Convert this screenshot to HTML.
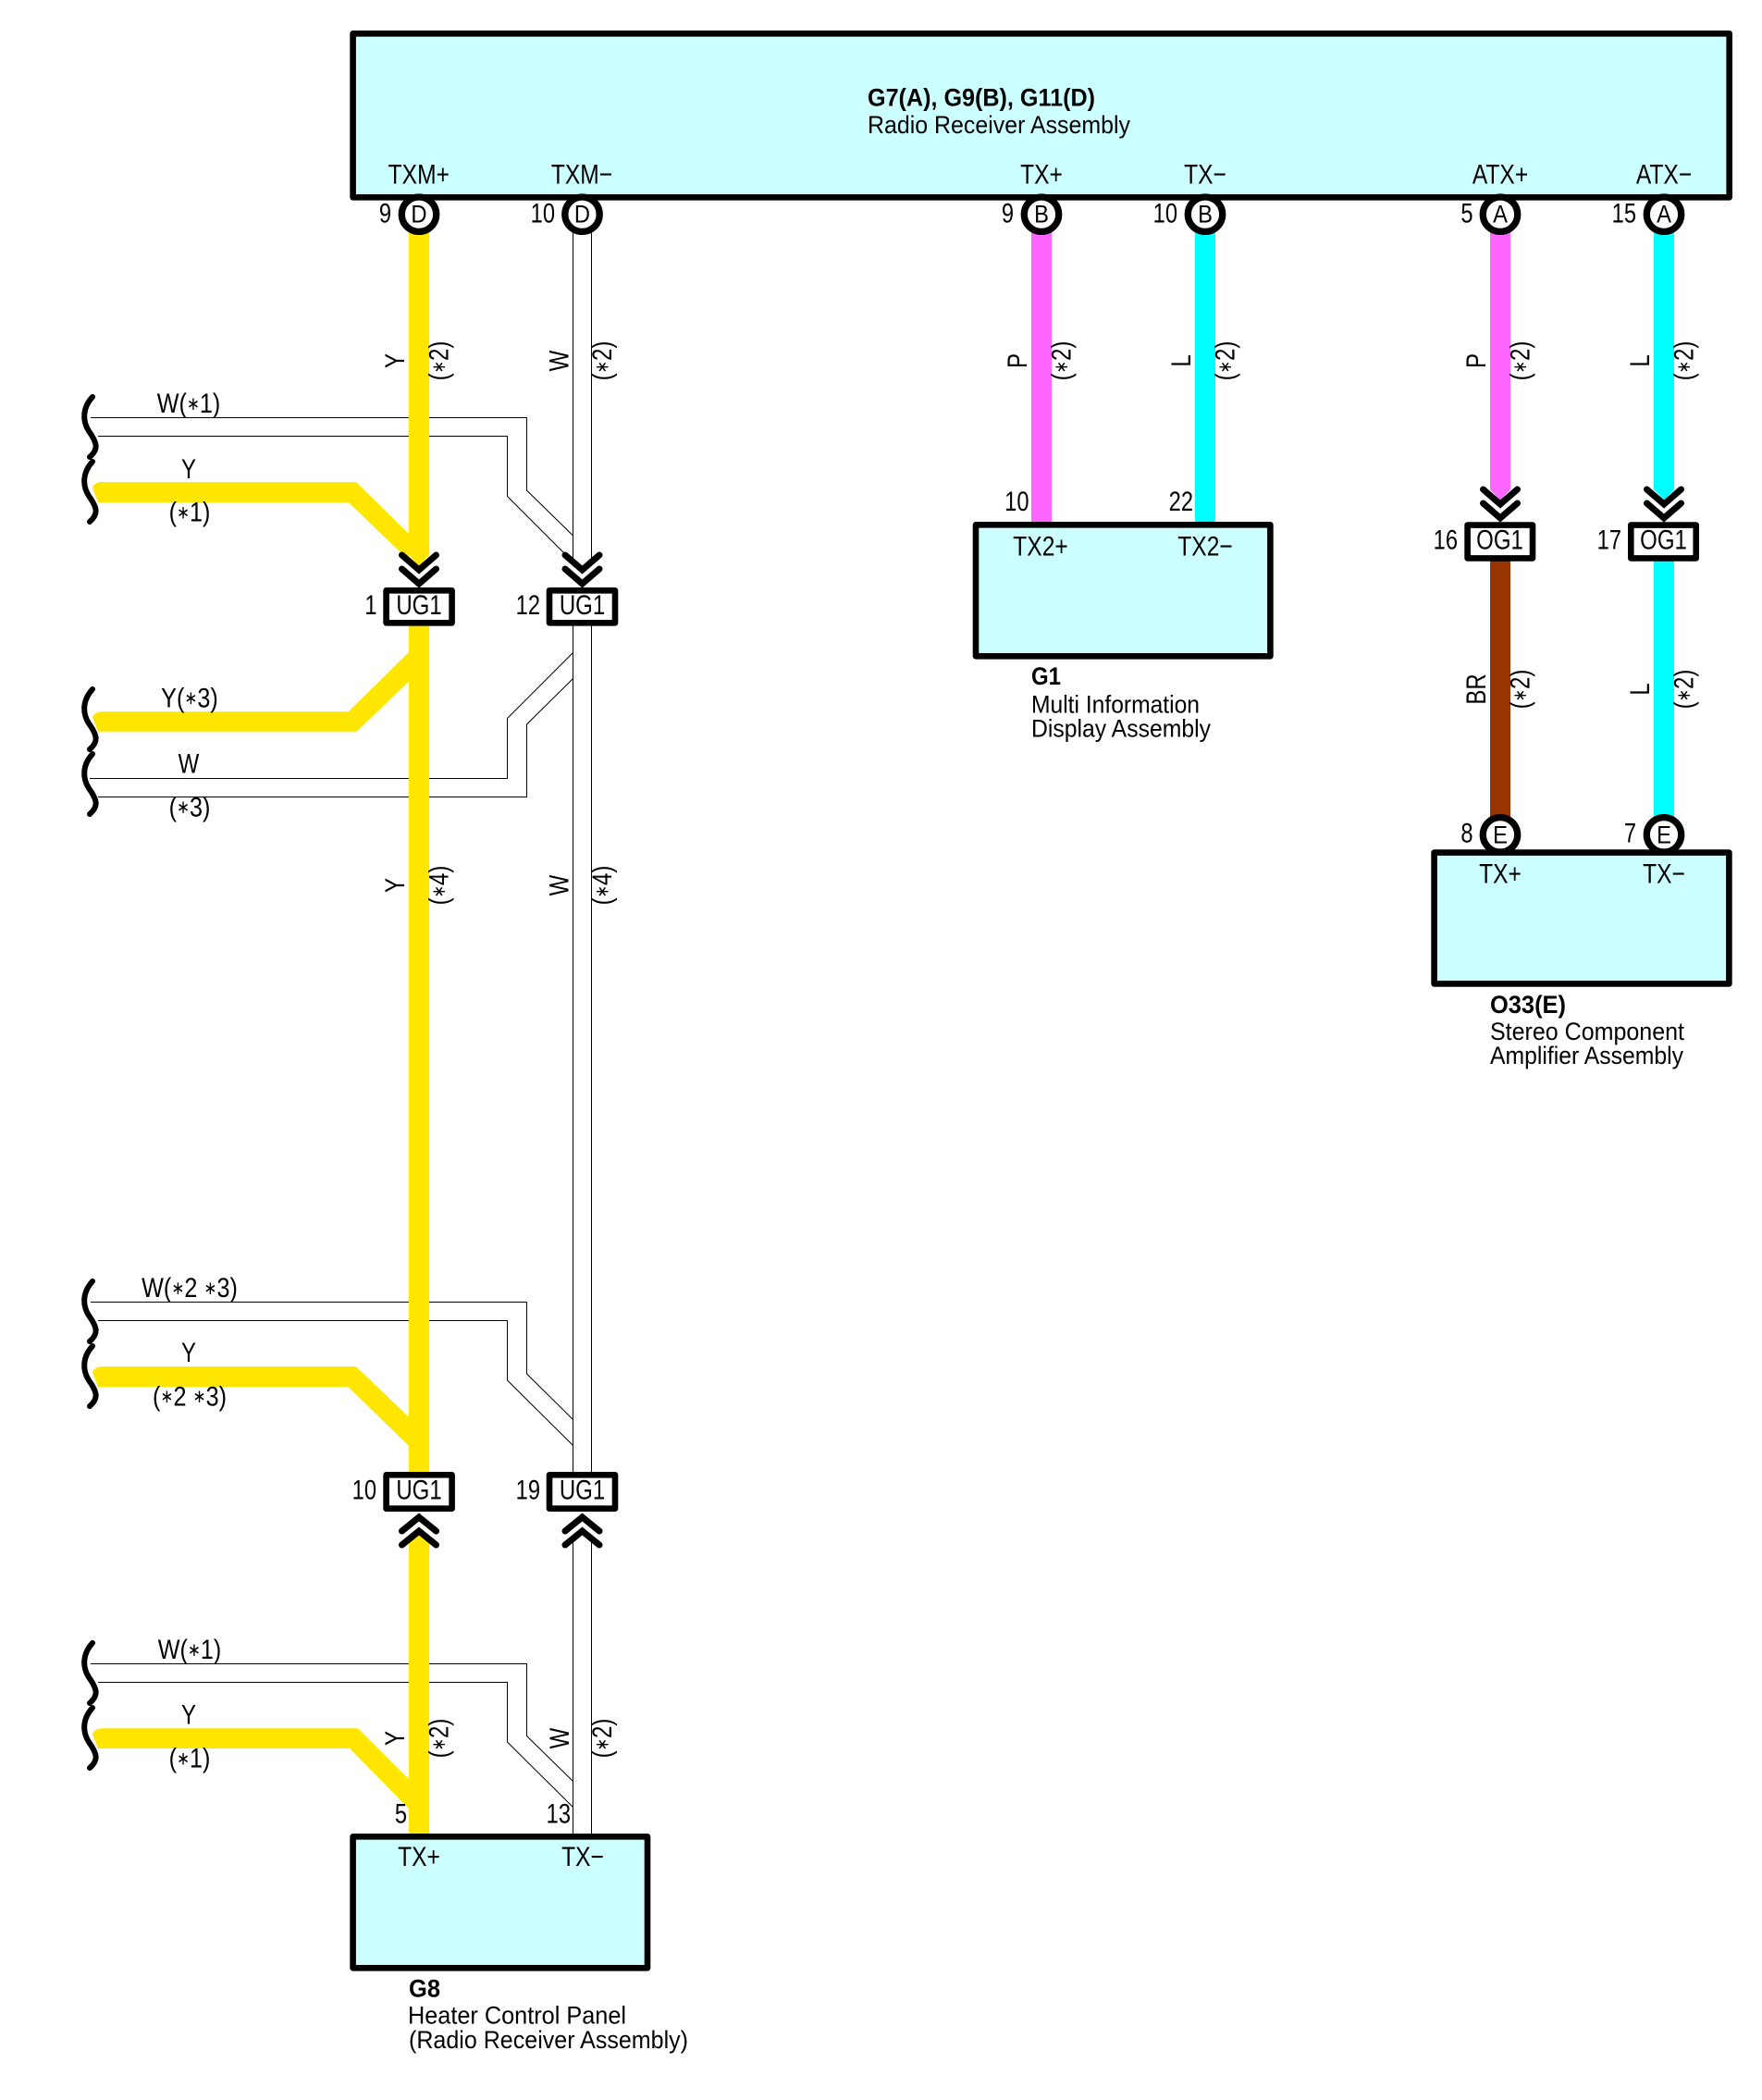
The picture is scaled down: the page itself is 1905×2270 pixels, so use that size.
<!DOCTYPE html>
<html lang="en"><head><meta charset="utf-8"><title>Radio Receiver Assembly wiring diagram</title>
<style>
html,body{margin:0;padding:0;background:#fff}
svg{display:block}
text{font-family:"Liberation Sans",sans-serif;font-size:30px;fill:#000}
.m{text-anchor:middle}.e{text-anchor:end}
.d{font-size:27px}.b{font-size:27px;font-weight:bold}
.c text{font-size:27px}
.a{font-size:20px;baseline-shift:3px}
</style></head><body>
<svg xmlns="http://www.w3.org/2000/svg" width="1905" height="2270" viewBox="0 0 1905 2270">
<defs>
<path id="br" d="M100 429C89 441 89 455 96 466C106 480 106 486 97 494" fill="none" stroke="#000" stroke-width="6" stroke-linecap="round"/>
<path id="cd" d="M-18.5 0L0 16L18.5 0M-18.5 15L0 31L18.5 15" fill="none" stroke="#000" stroke-width="7" stroke-linecap="round" stroke-linejoin="miter"/>
<path id="cu" d="M-18.5 15L0 0L18.5 15M-18.5 30L0 15L18.5 30" fill="none" stroke="#000" stroke-width="7" stroke-linecap="round" stroke-linejoin="miter"/>
</defs>

<!-- thin white wires -->
<g fill="none" stroke="#000" stroke-width="1">
<path d="M98 451.5H569.5V530L619 578.5"/>
<path d="M106 471.5H548.5V536.5L612 600"/>
<path d="M97 841.5H548.5V776.5L619 706"/>
<path d="M106 861.5H569.5V783L619 734"/>
<path d="M98 1407.5H569.5V1485L619 1534"/>
<path d="M106 1427.5H548.5V1492L619 1562"/>
<path d="M98 1798.5H569.5V1876.5L619 1925"/>
<path d="M106 1818.5H548.5V1883L619 1953"/>
<path d="M619.5 250V605M639.5 250V605M619.5 676V1591M639.5 676V1591M619.5 1663V1985M639.5 1663V1985"/>
</g>

<!-- yellow wires -->
<g fill="#ffe600">
<path d="M110 521Q103 521 100 527L106 543H376.7L433 597L442 606V577L385 521Z"/>
<path d="M110 769.3Q103 769.3 100 775L106 790.7H385.7L442 736.7V705L376.7 769.3Z"/>
<path d="M110 1477.3Q103 1477.3 100 1483L106 1499.3H376.7L442 1563V1531.7L385 1477.3Z"/>
<path d="M110 1868.3Q103 1868.3 100 1874L106 1890H378L442 1955V1923.3L387 1868.3Z"/>
<path d="M442 245H464V600L453 612L442 600Z"/>
<rect x="442" y="676" width="22" height="915"/>
<path d="M442 1665L453 1652L464 1665V1985H442Z"/>
</g>
<!-- coloured wires -->
<rect x="1115" y="245" width="22" height="320" fill="#ff66ff"/>
<rect x="1292" y="245" width="22" height="320" fill="#00ffff"/>
<path d="M1611 245H1633V529L1622 541L1611 529Z" fill="#ff66ff"/>
<path d="M1788 245H1810V529L1799 541L1788 529Z" fill="#00ffff"/>
<rect x="1611" y="606" width="22" height="280" fill="#993300"/>
<rect x="1788" y="606" width="22" height="280" fill="#00ffff"/>

<!-- braces -->
<use href="#br"/>
<use href="#br" y="70"/>
<use href="#br" y="316"/>
<use href="#br" y="386"/>
<use href="#br" y="956"/>
<use href="#br" y="1026"/>
<use href="#br" y="1347"/>
<use href="#br" y="1417"/>

<!-- boxes -->
<g fill="#ccffff" stroke="#000" stroke-width="6.6" stroke-linejoin="round">
<rect x="381.6" y="36.3" width="1488.1" height="177"/>
<rect x="1055" y="567.3" width="318.4" height="142"/>
<rect x="1550.6" y="921.6" width="318.8" height="141.8"/>
<rect x="381.6" y="1985.3" width="318.4" height="142"/>
</g>

<!-- circles -->
<g fill="#fff" stroke="#000" stroke-width="7.3">
<circle cx="453" cy="231.7" r="18.7"/>
<circle cx="629.5" cy="231.7" r="18.7"/>
<circle cx="1126" cy="231.7" r="18.7"/>
<circle cx="1303" cy="231.7" r="18.7"/>
<circle cx="1622" cy="231.7" r="18.7"/>
<circle cx="1799" cy="231.7" r="18.7"/>
<circle cx="1622" cy="902.3" r="18.7"/>
<circle cx="1799" cy="902.3" r="18.7"/>
</g>

<!-- chevrons -->
<use href="#cd" x="453" y="600"/>
<use href="#cd" x="629.5" y="600"/>
<use href="#cd" x="1622" y="529"/>
<use href="#cd" x="1799" y="529"/>
<use href="#cu" x="453" y="1640"/>
<use href="#cu" x="629.5" y="1640"/>

<!-- connector boxes -->
<g fill="#fff" stroke="#000" stroke-width="6.6" stroke-linejoin="round">
<rect x="417.6" y="638.3" width="71" height="35"/>
<rect x="594" y="638.3" width="71" height="35"/>
<rect x="417.6" y="1594.3" width="71" height="36.4"/>
<rect x="594" y="1594.3" width="71" height="36.4"/>
<rect x="1586.6" y="567.6" width="70.4" height="35.8"/>
<rect x="1763.3" y="567.6" width="70.4" height="35.8"/>
</g>

<!-- pin names -->
<text class="m" transform="translate(452.8 198.5) scale(.82 1)">TXM+</text>
<text class="m" transform="translate(629 198.5) scale(.82 1)">TXM−</text>
<text class="m" transform="translate(1126 198.5) scale(.82 1)">TX+</text>
<text class="m" transform="translate(1303 198.5) scale(.82 1)">TX−</text>
<text class="m" transform="translate(1622 198.5) scale(.82 1)">ATX+</text>
<text class="m" transform="translate(1799 198.5) scale(.82 1)">ATX−</text>
<text class="m" transform="translate(1125 600.5) scale(.82 1)">TX2+</text>
<text class="m" transform="translate(1303 600.5) scale(.82 1)">TX2−</text>
<text class="m" transform="translate(1622 954.7) scale(.82 1)">TX+</text>
<text class="m" transform="translate(1799 954.7) scale(.82 1)">TX−</text>
<text class="m" transform="translate(453 2017.2) scale(.82 1)">TX+</text>
<text class="m" transform="translate(630 2017.2) scale(.82 1)">TX−</text>

<!-- circle letters -->
<g class="c">
<text class="m" transform="translate(453 240.5) scale(.88 1)">D</text>
<text class="m" transform="translate(629.5 240.5) scale(.88 1)">D</text>
<text class="m" transform="translate(1126 240.5) scale(.88 1)">B</text>
<text class="m" transform="translate(1303 240.5) scale(.88 1)">B</text>
<text class="m" transform="translate(1622 240.5) scale(.88 1)">A</text>
<text class="m" transform="translate(1799 240.5) scale(.88 1)">A</text>
<text class="m" transform="translate(1622 911.5) scale(.88 1)">E</text>
<text class="m" transform="translate(1799 911.5) scale(.88 1)">E</text>
</g>

<!-- connector labels -->
<text class="m" transform="translate(453 663.8) scale(.8 1)">UG1</text>
<text class="m" transform="translate(629.5 663.8) scale(.8 1)">UG1</text>
<text class="m" transform="translate(453 1620.5) scale(.8 1)">UG1</text>
<text class="m" transform="translate(629.5 1620.5) scale(.8 1)">UG1</text>
<text class="m" transform="translate(1621.5 593.5) scale(.8 1)">OG1</text>
<text class="m" transform="translate(1798.5 593.5) scale(.8 1)">OG1</text>

<!-- pin numbers -->
<g>
<text class="e" transform="translate(423 240.5) scale(.79 1)">9</text>
<text class="e" transform="translate(600 240.5) scale(.79 1)">10</text>
<text class="e" transform="translate(1096 240.5) scale(.79 1)">9</text>
<text class="e" transform="translate(1273 240.5) scale(.79 1)">10</text>
<text class="e" transform="translate(1592.5 240.5) scale(.79 1)">5</text>
<text class="e" transform="translate(1769 240.5) scale(.79 1)">15</text>
<text class="e" transform="translate(1112.5 552.2) scale(.79 1)">10</text>
<text class="e" transform="translate(1290 552.2) scale(.79 1)">22</text>
<text class="e" transform="translate(1576 593.5) scale(.79 1)">16</text>
<text class="e" transform="translate(1753 593.5) scale(.79 1)">17</text>
<text class="e" transform="translate(1592.5 910.5) scale(.79 1)">8</text>
<text class="e" transform="translate(1769 910.5) scale(.79 1)">7</text>
<text class="e" transform="translate(407.5 663.8) scale(.79 1)">1</text>
<text class="e" transform="translate(584 663.8) scale(.79 1)">12</text>
<text class="e" transform="translate(407 1620.5) scale(.79 1)">10</text>
<text class="e" transform="translate(584 1620.5) scale(.79 1)">19</text>
<text class="e" transform="translate(440 1970.5) scale(.79 1)">5</text>
<text class="e" transform="translate(617 1970.5) scale(.79 1)">13</text>
</g>

<!-- left wire labels -->
<text class="m" transform="translate(204 446) scale(.84 1)">W(<tspan class="a">∗</tspan>1)</text>
<text class="m" transform="translate(204 517.2) scale(.8 1)">Y</text>
<text class="m" transform="translate(205 563.5) scale(.84 1)">(<tspan class="a">∗</tspan>1)</text>
<text class="m" transform="translate(205 764.3) scale(.84 1)">Y(<tspan class="a">∗</tspan>3)</text>
<text class="m" transform="translate(204 835.5) scale(.8 1)">W</text>
<text class="m" transform="translate(205 882.3) scale(.84 1)">(<tspan class="a">∗</tspan>3)</text>
<text class="m" transform="translate(205 1402.2) scale(.84 1)">W(<tspan class="a">∗</tspan>2 <tspan class="a">∗</tspan>3)</text>
<text class="m" transform="translate(204 1472.2) scale(.8 1)">Y</text>
<text class="m" transform="translate(205 1519.3) scale(.84 1)">(<tspan class="a">∗</tspan>2 <tspan class="a">∗</tspan>3)</text>
<text class="m" transform="translate(205 1793) scale(.84 1)">W(<tspan class="a">∗</tspan>1)</text>
<text class="m" transform="translate(204 1863.3) scale(.8 1)">Y</text>
<text class="m" transform="translate(205 1910.7) scale(.84 1)">(<tspan class="a">∗</tspan>1)</text>

<!-- rotated wire labels -->
<g>
<text class="m" transform="translate(437 390) rotate(-90) scale(.8 1)">Y</text>
<text class="m" transform="translate(484.5 390) rotate(-90) scale(.8 1)">(<tspan class="a">∗</tspan>2)</text>
<text class="m" transform="translate(614.5 390) rotate(-90) scale(.8 1)">W</text>
<text class="m" transform="translate(661 390) rotate(-90) scale(.8 1)">(<tspan class="a">∗</tspan>2)</text>
<text class="m" transform="translate(1110 390) rotate(-90) scale(.8 1)">P</text>
<text class="m" transform="translate(1157.5 390) rotate(-90) scale(.8 1)">(<tspan class="a">∗</tspan>2)</text>
<text class="m" transform="translate(1287 390) rotate(-90) scale(.8 1)">L</text>
<text class="m" transform="translate(1334.5 390) rotate(-90) scale(.8 1)">(<tspan class="a">∗</tspan>2)</text>
<text class="m" transform="translate(1606 390) rotate(-90) scale(.8 1)">P</text>
<text class="m" transform="translate(1653.5 390) rotate(-90) scale(.8 1)">(<tspan class="a">∗</tspan>2)</text>
<text class="m" transform="translate(1783 390) rotate(-90) scale(.8 1)">L</text>
<text class="m" transform="translate(1830.5 390) rotate(-90) scale(.8 1)">(<tspan class="a">∗</tspan>2)</text>
<text class="m" transform="translate(437 957) rotate(-90) scale(.8 1)">Y</text>
<text class="m" transform="translate(484.5 957) rotate(-90) scale(.8 1)">(<tspan class="a">∗</tspan>4)</text>
<text class="m" transform="translate(614.5 957) rotate(-90) scale(.8 1)">W</text>
<text class="m" transform="translate(661 957) rotate(-90) scale(.8 1)">(<tspan class="a">∗</tspan>4)</text>
<text class="m" transform="translate(1606 745) rotate(-90) scale(.8 1)">BR</text>
<text class="m" transform="translate(1653.5 745) rotate(-90) scale(.8 1)">(<tspan class="a">∗</tspan>2)</text>
<text class="m" transform="translate(1783 745) rotate(-90) scale(.8 1)">L</text>
<text class="m" transform="translate(1830.5 745) rotate(-90) scale(.8 1)">(<tspan class="a">∗</tspan>2)</text>
<text class="m" transform="translate(437 1879) rotate(-90) scale(.8 1)">Y</text>
<text class="m" transform="translate(484.5 1879) rotate(-90) scale(.8 1)">(<tspan class="a">∗</tspan>2)</text>
<text class="m" transform="translate(615 1879) rotate(-90) scale(.8 1)">W</text>
<text class="m" transform="translate(661 1879) rotate(-90) scale(.8 1)">(<tspan class="a">∗</tspan>2)</text>
</g>

<!-- component captions -->
<text class="b" x="938" y="114.5" textLength="246" lengthAdjust="spacingAndGlyphs">G7(A), G9(B), G11(D)</text>
<text class="d" x="938" y="144" textLength="284" lengthAdjust="spacingAndGlyphs">Radio Receiver Assembly</text>
<text class="b" x="1115" y="740" textLength="32" lengthAdjust="spacingAndGlyphs">G1</text>
<text class="d" x="1115" y="770.7" textLength="182" lengthAdjust="spacingAndGlyphs">Multi Information</text>
<text class="d" x="1115" y="796.7" textLength="194" lengthAdjust="spacingAndGlyphs">Display Assembly</text>
<text class="b" x="1611" y="1095" textLength="82" lengthAdjust="spacingAndGlyphs">O33(E)</text>
<text class="d" x="1611" y="1124" textLength="210" lengthAdjust="spacingAndGlyphs">Stereo Component</text>
<text class="d" x="1611" y="1150" textLength="209" lengthAdjust="spacingAndGlyphs">Amplifier Assembly</text>
<text class="b" x="442" y="2158.3" textLength="34" lengthAdjust="spacingAndGlyphs">G8</text>
<text class="d" x="441" y="2187.3" textLength="236" lengthAdjust="spacingAndGlyphs">Heater Control Panel</text>
<text class="d" x="442" y="2214" textLength="302" lengthAdjust="spacingAndGlyphs">(Radio Receiver Assembly)</text>
</svg>
</body></html>
